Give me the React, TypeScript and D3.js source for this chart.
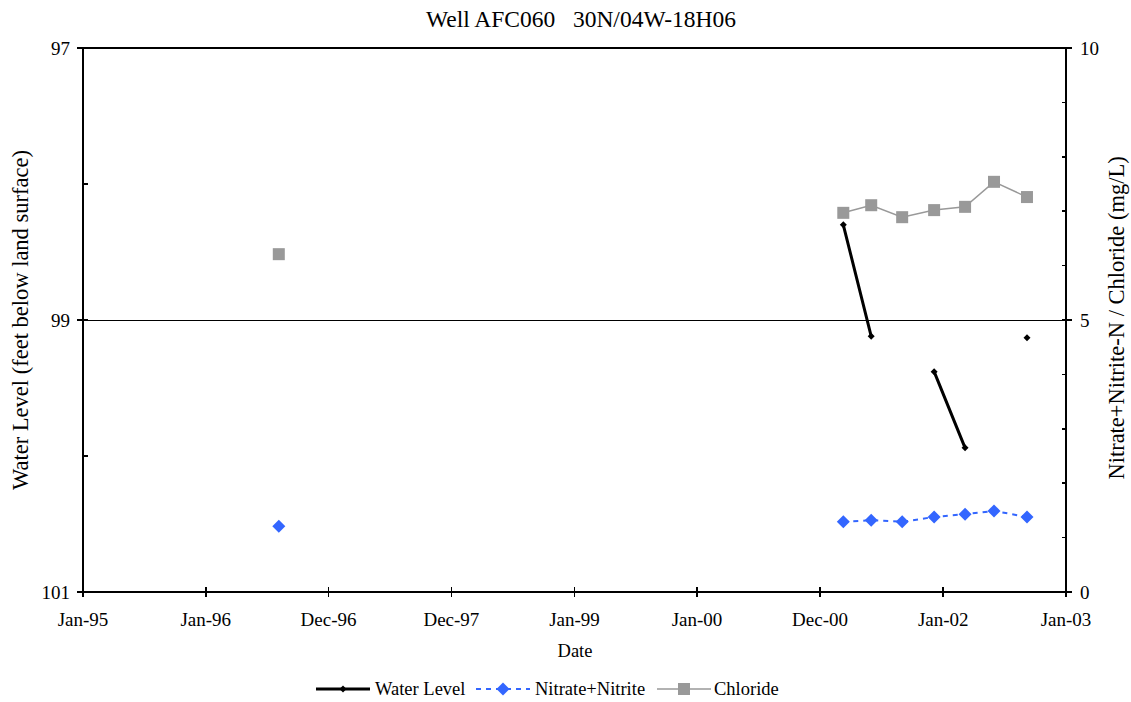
import React from "react";
import * as d3 from "d3";

const sampleDates = ["1996-08-05", "2001-03-10", "2001-06-01", "2001-09-01", "2001-12-05", "2002-03-07", "2002-06-01", "2002-09-07"];
const waterLevel: (number | null)[] = [null, 98.3, 99.12, null, 99.38, 99.94, null, 99.13];
const nitrate = [1.21, 1.29, 1.32, 1.29, 1.38, 1.43, 1.49, 1.38];
const chloride = [6.21, 6.97, 7.11, 6.89, 7.02, 7.08, 7.54, 7.26];
const xTickDates = ["1995-01-01", "1996-01-01", "1996-12-31", "1997-12-31", "1999-01-01", "1999-12-31", "2000-12-31", "2002-01-01", "2003-01-01"];
const xTickLabels = ["Jan-95", "Jan-96", "Dec-96", "Dec-97", "Jan-99", "Jan-00", "Dec-00", "Jan-02", "Jan-03"];
const leftTicks = [97, 99, 101];
const leftMinor = [98, 100];
const rightTicks = [0, 5, 10];
const rightMinor = [1, 2, 3, 4, 6, 7, 8, 9];

const W = 1131, H = 702;
const L = 83, R = 1066, T = 48, B = 592;
const FONT = "Liberation Serif, DejaVu Serif, serif";

export default function App() {
  const parse = d3.utcParse("%Y-%m-%d");
  const dates = sampleDates.map((d) => parse(d)!);
  const x = d3.scaleUtc().domain([parse("1995-01-01")!, parse("2003-01-01")!]).range([L, R]);
  const yL = d3.scaleLinear().domain([97, 101]).range([T, B]);
  const yR = d3.scaleLinear().domain([0, 10]).range([B, T]);

  const wlData = dates.map((d, i) => ({ d, v: waterLevel[i] }));
  const wlLine = d3.line<{ d: Date; v: number | null }>()
    .defined((p) => p.v !== null)
    .x((p) => x(p.d))
    .y((p) => yL(p.v as number));
  const seriesLine = d3.line<number>().x((_, i) => x(dates[i + 1])).y((v) => yR(v));

  const diamond = (cx: number, cy: number, r: number) => `M${cx},${cy - r}L${cx + r},${cy}L${cx},${cy + r}L${cx - r},${cy}Z`;

  return (
    <svg width={W} height={H} style={{ position: "absolute", left: 0, top: 0, background: "#fff", fontFamily: FONT }}>
      <rect x={0} y={0} width={W} height={H} fill="#fff" />
      <text x={581} y={27} textAnchor="middle" fontSize={23.5} fill="#000" style={{ whiteSpace: "pre" }}>
        {"Well AFC060   30N/04W-18H06"}
      </text>

      <g shapeRendering="crispEdges">
        {[99].map((v) => (
          <line key={v} x1={L} x2={R} y1={yL(v)} y2={yL(v)} stroke="#000" strokeWidth={1} />
        ))}
        <line x1={L} x2={R} y1={T} y2={T} stroke="#000" strokeWidth={2} />
        <line x1={L} x2={L} y1={T} y2={B} stroke="#000" strokeWidth={2} />
        <line x1={R} x2={R} y1={T} y2={B} stroke="#000" strokeWidth={2} />
        <line x1={L} x2={R} y1={B} y2={B} stroke="#000" strokeWidth={2} />

        {leftTicks.map((v) => (
          <line key={v} x1={L - 6} x2={v === 97 || v === 101 ? L : L + 5} y1={yL(v)} y2={yL(v)} stroke="#000" strokeWidth={1.5} />
        ))}
        {leftMinor.map((v) => (
          <line key={v} x1={L} x2={L + 5} y1={yL(v)} y2={yL(v)} stroke="#000" strokeWidth={1.5} />
        ))}
        {rightTicks.map((v) => (
          <line key={v} x1={R - 4} x2={R + 6} y1={yR(v)} y2={yR(v)} stroke="#000" strokeWidth={1.5} />
        ))}
        {rightMinor.map((v) => (
          <line key={v} x1={R - 4} x2={R} y1={yR(v)} y2={yR(v)} stroke="#000" strokeWidth={1.5} />
        ))}
        {xTickDates.map((d) => {
          const px = x(parse(d)!);
          return <line key={d} x1={px} x2={px} y1={B - 5} y2={B + 5} stroke="#000" strokeWidth={1.5} />;
        })}
      </g>

      {leftTicks.map((v) => (
        <text key={v} x={L - 13} y={yL(v) + 6.5} textAnchor="end" fontSize={19}>{v}</text>
      ))}
      {rightTicks.map((v) => (
        <text key={v} x={R + 14} y={yR(v) + 6.5} textAnchor="start" fontSize={19}>{v}</text>
      ))}
      {xTickDates.map((d, i) => (
        <text key={d} x={x(parse(d)!)} y={626} textAnchor="middle" fontSize={19}>{xTickLabels[i]}</text>
      ))}

      <text x={575} y={657} textAnchor="middle" fontSize={18.5}>Date</text>
      <text transform={`translate(28,320) rotate(-90)`} textAnchor="middle" fontSize={22.5}>
        Water Level (feet below land surface)
      </text>
      <text transform={`translate(1124,318) rotate(-90)`} textAnchor="middle" fontSize={22.5}>
        Nitrate+Nitrite-N / Chloride (mg/L)
      </text>

      {/* chloride */}
      <path d={seriesLine(chloride.slice(1))!} fill="none" stroke="#999" strokeWidth={1.5} />
      {chloride.map((v, i) => (
        <rect key={i} x={x(dates[i]) - 6} y={yR(v) - 6} width={12} height={12} fill="#999" />
      ))}

      {/* nitrate */}
      <path d={seriesLine(nitrate.slice(1))!} fill="none" stroke="#3366ff" strokeWidth={2} strokeDasharray="5,5" />
      {nitrate.map((v, i) => (
        <path key={i} d={diamond(x(dates[i]), yR(v), 6.5)} fill="#3366ff" />
      ))}

      {/* water level */}
      <path d={wlLine(wlData)!} fill="none" stroke="#000" strokeWidth={3} />
      {wlData.filter((p) => p.v !== null).map((p, i) => (
        <path key={i} d={diamond(x(p.d), yL(p.v as number), 3.5)} fill="#000" />
      ))}

      {/* legend */}
      <g fontSize={18.5}>
        <line x1={316} x2={370} y1={689} y2={689} stroke="#000" strokeWidth={3} />
        <path d={diamond(343, 689, 3.5)} fill="#000" />
        <text x={375} y={695}>Water Level</text>
        <line x1={476} x2={530} y1={689} y2={689} stroke="#3366ff" strokeWidth={2} strokeDasharray="5,5" />
        <path d={diamond(503, 689, 6.5)} fill="#3366ff" />
        <text x={535} y={695}>Nitrate+Nitrite</text>
        <line x1={657} x2={711} y1={689} y2={689} stroke="#999" strokeWidth={1.5} />
        <rect x={678} y={683} width={12} height={12} fill="#999" />
        <text x={714} y={695}>Chloride</text>
      </g>
    </svg>
  );
}
